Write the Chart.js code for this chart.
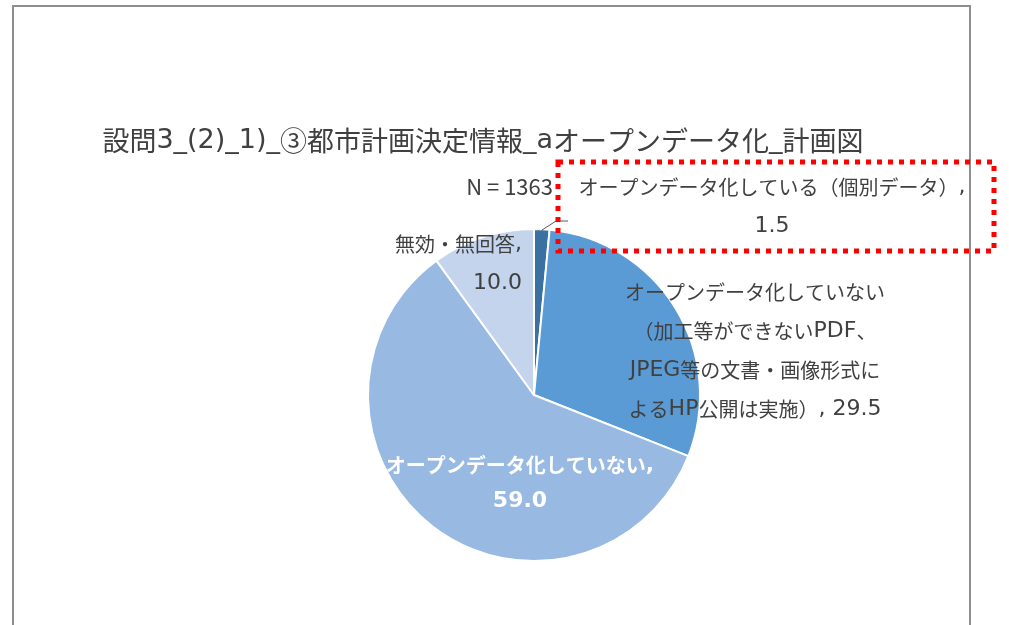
<!DOCTYPE html>
<html>
<head>
<meta charset="utf-8">
<script src="https://cdn.jsdelivr.net/npm/chart.js@4.4.0/dist/chart.umd.min.js"></script>
<style>
	html, body { margin: 0; padding: 0; background: #fff; }
</style>
</head>
<body>
<canvas id="PieChart" width="1009" height="625"></canvas>
<script>
const chart_title = "設問3_(2)_1)_③都市計画決定情報_aオープンデータ化_計画図";
const sample_size = "N = 1363";
const categories = [
	"オープンデータ化している（個別データ）",
	"オープンデータ化していない（加工等ができないPDF、JPEG等の文書・画像形式によるHP公開は実施）",
	"オープンデータ化していない",
	"無効・無回答"
];
const values = [1.5, 29.5, 59.0, 10.0];
// how each category name is wrapped on the chart
const label_lines = [
	["オープンデータ化している（個別データ）,"],
	["オープンデータ化していない", "（加工等ができないPDF、", "JPEG等の文書・画像形式に", "よるHP公開は実施）, "],
	["オープンデータ化していない,"],
	["無効・無回答,"]
];
const slice_colors = ["#3B70A3", "#5B9BD5", "#98B9E1", "#C3D4EC"];

const CJK_FONT = '"Noto Sans CJK JP", sans-serif';
const LATIN_FONT = '"DejaVu Sans", sans-serif';
const TEXT = "#404040";

// label placement, offsets from the pie centre
const label_layout = [
	{ dx: 238, dy: -208, align: "center", color: TEXT, bold: false },
	{ dx: 221, dy: -103, align: "center", color: TEXT, bold: false },
	{ dx: -14, dy: 70, align: "center", color: "#FFFFFF", bold: true },
	{ dx: -12, dy: -151, align: "right", color: TEXT, bold: false }
];

function is_cjk(ch) {
	return /[\u2460-\u24ff\u3000-\u30ff\u3400-\u9fff\uff00-\uffef]/.test(ch);
}

// split text into runs so Japanese and Latin glyphs get their own font
function text_runs(text) {
	const runs = [];
	for (const ch of text) {
		const cjk = is_cjk(ch);
		if (runs.length && runs[runs.length - 1].cjk === cjk)
			runs[runs.length - 1].text += ch;
		else
			runs.push({ text: ch, cjk });
	}
	return runs;
}

function draw_mixed(ctx, text, x, y, align, style) {
	const runs = text_runs(text);
	const weight = style.bold ? "bold " : "";
	let total = 0;
	runs.forEach(run => {
		run.font = weight + (run.cjk ? style.cjk_size + "px " + CJK_FONT : style.latin_size + "px " + LATIN_FONT);
		ctx.font = run.font;
		run.width = ctx.measureText(run.text).width;
		total += run.width;
	});
	let start = x;
	if (align === "center") start = x - total / 2;
	else if (align === "right") start = x - total;
	ctx.textAlign = "left";
	runs.forEach(run => {
		ctx.font = run.font;
		ctx.fillText(run.text, start, y);
		start += run.width;
	});
}

function value_text(i) {
	return values[i].toFixed(1);
}

const overlay = {
	id: "overlay",
	afterDraw(chart) {
		const ctx = chart.ctx;
		const arcs = chart.getDatasetMeta(0).data;
		const cx = arcs[0].x, cy = arcs[0].y;
		ctx.save();

		// outer frame
		ctx.strokeStyle = "#8E8E8E";
		ctx.lineWidth = 2;
		ctx.beginPath();
		ctx.moveTo(13, 640);
		ctx.lineTo(13, 6);
		ctx.lineTo(970, 6);
		ctx.lineTo(970, 640);
		ctx.stroke();

		ctx.fillStyle = TEXT;
		ctx.textBaseline = "middle";
		draw_mixed(ctx, chart_title, 483, 141, "center", { cjk_size: 27, latin_size: 27, bold: false });
		ctx.font = "22px " + CJK_FONT;
		ctx.textAlign = "right";
		ctx.fillText(sample_size, 553, 187);

		// data labels
		const line_h = 39;
		label_lines.forEach((lines, i) => {
			const lay = label_layout[i];
			const style = { cjk_size: 20, latin_size: 22, bold: lay.bold };
			ctx.fillStyle = lay.color;
			const x = cx + lay.dx, y = cy + lay.dy;
			if (lines.length === 1) {
				draw_mixed(ctx, lines[0], x, y, lay.align, style);
				draw_mixed(ctx, value_text(i), x, y + (lay.bold ? 36 : line_h), lay.align, style);
			} else {
				lines.forEach((ln, k) => {
					const t = k === lines.length - 1 ? ln + value_text(i) : ln;
					draw_mixed(ctx, t, x, y + k * line_h, lay.align, style);
				});
			}
		});

		// leader line for the small slice
		const a0 = arcs[0];
		const mid = (a0.startAngle + a0.endAngle) / 2;
		const r = a0.outerRadius;
		ctx.strokeStyle = "#595959";
		ctx.lineWidth = 1;
		ctx.beginPath();
		ctx.moveTo(cx + Math.cos(mid) * (r - 1), cy + Math.sin(mid) * (r - 1));
		ctx.lineTo(cx + 22, cy - r - 8);
		ctx.lineTo(cx + 34, cy - r - 8);
		ctx.stroke();

		// red dotted highlight box
		ctx.strokeStyle = "#FF0000";
		ctx.lineWidth = 5;
		ctx.setLineDash([5, 6]);
		ctx.strokeRect(cx + 24, cy - 233, 436, 89);
		ctx.restore();
	}
};

new Chart(document.getElementById("PieChart"), {
	type: "pie",
	data: {
		labels: categories,
		datasets: [{
			data: values,
			backgroundColor: slice_colors,
			borderColor: "#FFFFFF",
			borderWidth: 2
		}]
	},
	options: {
		responsive: false,
		animation: false,
		layout: { padding: { left: 367, right: 308, top: 228, bottom: 63 } },
		plugins: {
			legend: { display: false },
			tooltip: { enabled: false },
			title: { display: false }
		}
	},
	plugins: [overlay]
});
</script>
</body>
</html>
